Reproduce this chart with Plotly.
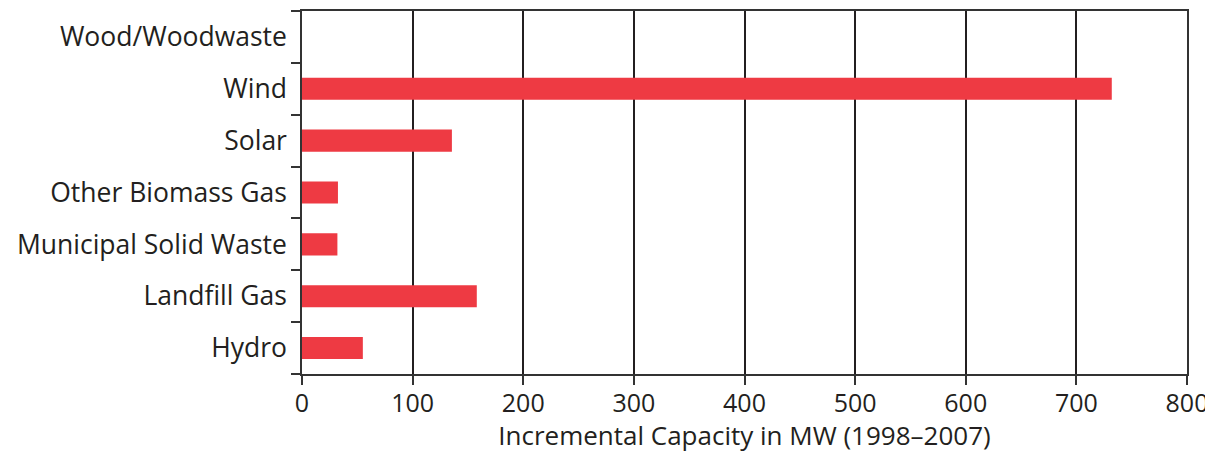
import plotly.graph_objects as go

categories = ["Hydro", "Landfill Gas", "Municipal Solid Waste", "Other Biomass Gas",
              "Solar", "Wind", "Wood/Woodwaste"]
capacity_mw = [55, 158, 32, 32.5, 135.5, 732, 0]
x_ticks = [0, 100, 200, 300, 400, 500, 600, 700, 800]

FONT = "Open Sans"
TXT = "#231f20"

fig = go.Figure(go.Bar(
    x=capacity_mw, y=categories, orientation="h",
    marker=dict(color="#ee3a43", line=dict(width=0)),
))

# page body has an 8px margin, so the figure is sized/offset to compensate
fig.update_layout(
    width=1205, height=445,
    margin=dict(l=294, r=26, t=3, b=79),
    paper_bgcolor="white", plot_bgcolor="white",
    bargap=0.575,
    showlegend=False,
    font=dict(family=FONT, size=25, color=TXT),
    xaxis=dict(
        range=[0, 800], tickvals=x_ticks, ticktext=[str(v) for v in x_ticks],
        automargin=False,
        showgrid=True, gridcolor="#231f20", gridwidth=1.5,
        showline=True, linecolor="#333333", linewidth=1.5, mirror=True,
        ticks="outside", ticklen=9, tickwidth=1.5, tickcolor="#333333",
        ticklabelstandoff=-3,
        zeroline=False,
        title=dict(text="Incremental Capacity in MW (1998–2007)", standoff=9,
                   font=dict(family=FONT, size=26, color=TXT)),
        tickfont=dict(family=FONT, size=25, color=TXT),
    ),
    yaxis=dict(
        categoryorder="array", categoryarray=categories,
        automargin=False,
        showgrid=False,
        showline=True, linecolor="#333333", linewidth=1.5, mirror=True,
        ticks="outside", ticklen=9, tickwidth=1.5, tickcolor="#333333",
        tickson="boundaries", ticklabelstandoff=8,
        tickfont=dict(family=FONT, size=26.5, color=TXT),
    ),
)

fig.write_html("out.html")
